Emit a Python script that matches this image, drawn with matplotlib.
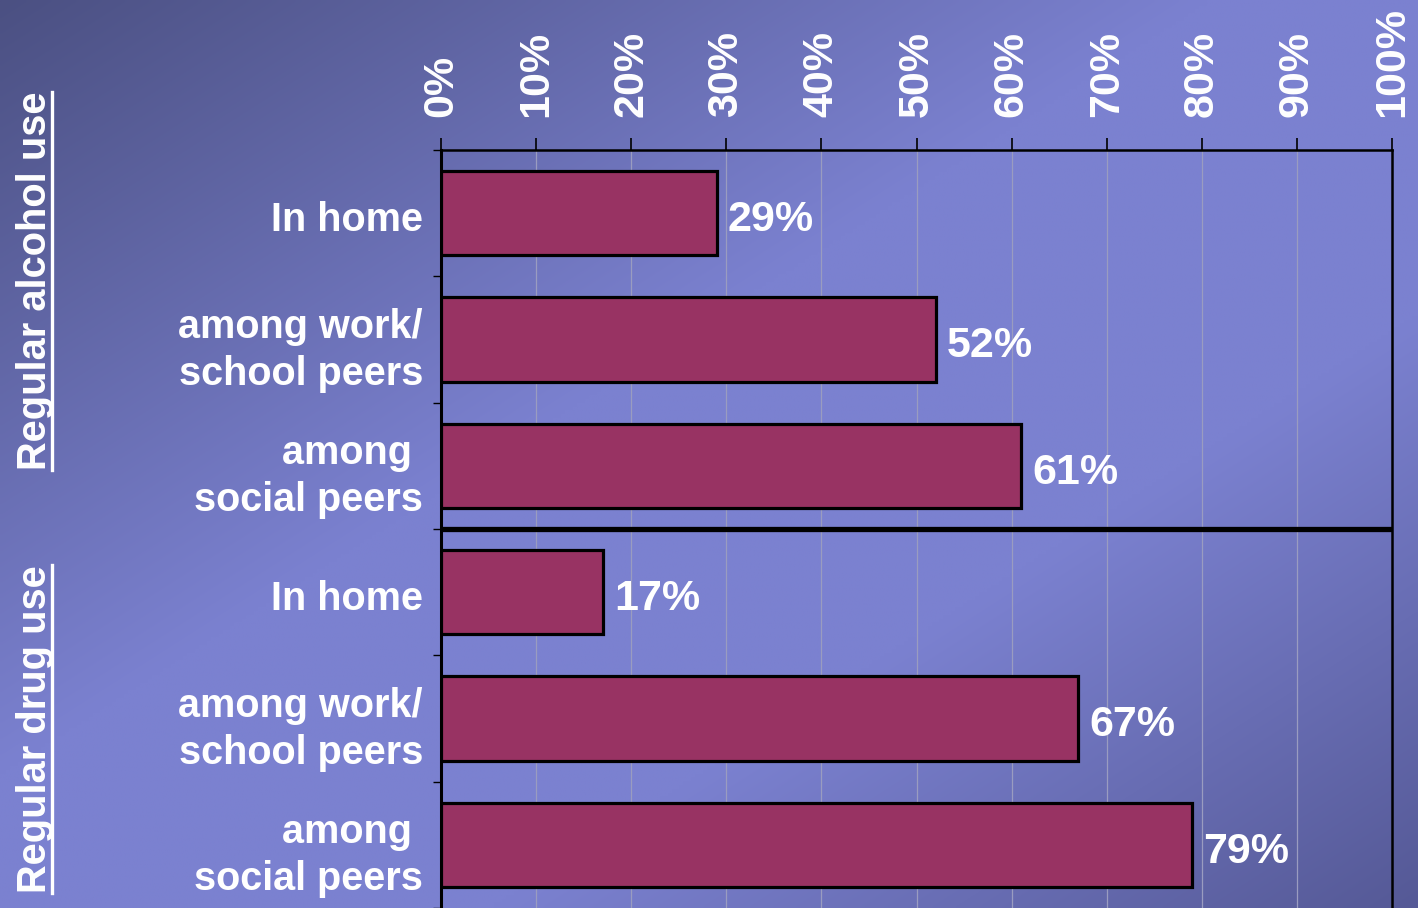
import numpy as np
import matplotlib
matplotlib.use("Agg")
import matplotlib.pyplot as plt
from matplotlib.lines import Line2D

plt.rcParams['font.family'] = ['Liberation Sans', 'DejaVu Sans']
plt.rcParams['font.weight'] = 'bold'

# ---- data ----
categories = ["In home", "among work/\nschool peers", "among \nsocial peers",
              "In home", "among work/\nschool peers", "among \nsocial peers"]
values = [29, 52, 61, 17, 67, 79]
groups = ["Regular alcohol use", "Regular drug use"]
xticks = [0, 10, 20, 30, 40, 50, 60, 70, 80, 90, 100]
xticklabels = [f"{t}%" for t in xticks]

W, H = 1418, 908
fig = plt.figure(figsize=(W / 100, H / 100), dpi=100)

# ---- gradient background ----
bg = fig.add_axes([0, 0, 1, 1], zorder=-10)
gx, gy = np.meshgrid(np.linspace(0, 1, 360), np.linspace(0, 1, 240))
s = gx + gy  # 0 at top-left, 2 at bottom-right
dark = np.array([0x4b, 0x50, 0x82]) / 255
light = np.array([0x7b, 0x81, 0xd0]) / 255
dark2 = np.array([0x55, 0x59, 0x96]) / 255
pts = [0.0, 0.85, 1.35, 2.0]
cols = [dark, light, light, dark2]
img = np.zeros(s.shape + (3,))
for c in range(3):
    img[..., c] = np.interp(s, pts, [cc[c] for cc in cols])
bg.imshow(img, extent=[0, 1, 0, 1], origin='upper', aspect='auto', interpolation='bilinear')
bg.set_xlim(0, 1); bg.set_ylim(0, 1)
bg.axis('off')

# ---- main axes ----
ax = fig.add_axes([441 / W, 0, 951 / W, 758 / H])
ax.set_facecolor('none')
n = len(values)
ypos = np.arange(n) + 0.5
ax.barh(ypos, values, height=0.67, color='#983363', edgecolor='black', linewidth=2.3, zorder=3)
ax.set_xlim(0, 100)
ax.set_ylim(n, 0)

for v, y in zip(values, ypos):
    ax.annotate(f"{v}%", xy=(v, y), xytext=(8, -5), textcoords='offset points',
                ha='left', va='center', color='white', fontsize=31, fontweight='bold', zorder=4)

ax.axhline(3, color='black', lw=3.8, zorder=5)

ax.xaxis.tick_top()
ax.set_xticks(xticks)
ax.set_xticklabels(xticklabels, rotation=90, color='white', fontsize=31, fontweight='bold')
ax.tick_params(axis='x', which='major', length=9, width=1.2, pad=15, colors='black', labelcolor='white')
ax.grid(axis='x', color='#9a9cc0', lw=0.9, zorder=1)

ax.set_yticks(np.arange(n + 1))
ax.set_yticklabels([])
ax.set_yticks(ypos + 0.02, minor=True)
ax.set_yticklabels(categories, minor=True, color='white', fontsize=28.5, fontweight='bold',
                   linespacing=1.3)
ax.tick_params(axis='y', which='major', length=6, width=1.0, colors='black')
ax.tick_params(axis='y', which='minor', length=0, pad=13, labelcolor='white')

for side in ['top', 'left', 'right']:
    ax.spines[side].set_color('black')
    ax.spines[side].set_linewidth(1.8)
ax.spines['left'].set_linewidth(2.2)
ax.spines['bottom'].set_visible(False)

# ---- group labels with underline ----
group_spans = [(92, 470), (565, 893)]
for g, (y0, y1) in zip(groups, group_spans):
    yc = 1 - (y0 + y1) / 2 / H
    fig.text(46 / W, yc, g, rotation=90, rotation_mode='anchor', ha='center', va='baseline',
             color='white', fontsize=28.7, fontweight='bold')
    fig.add_artist(Line2D([52 / W, 52 / W], [1 - y0 / H, 1 - y1 / H], color='white', lw=2.4,
                          transform=fig.transFigure))

fig.savefig("out.png", dpi=100)
